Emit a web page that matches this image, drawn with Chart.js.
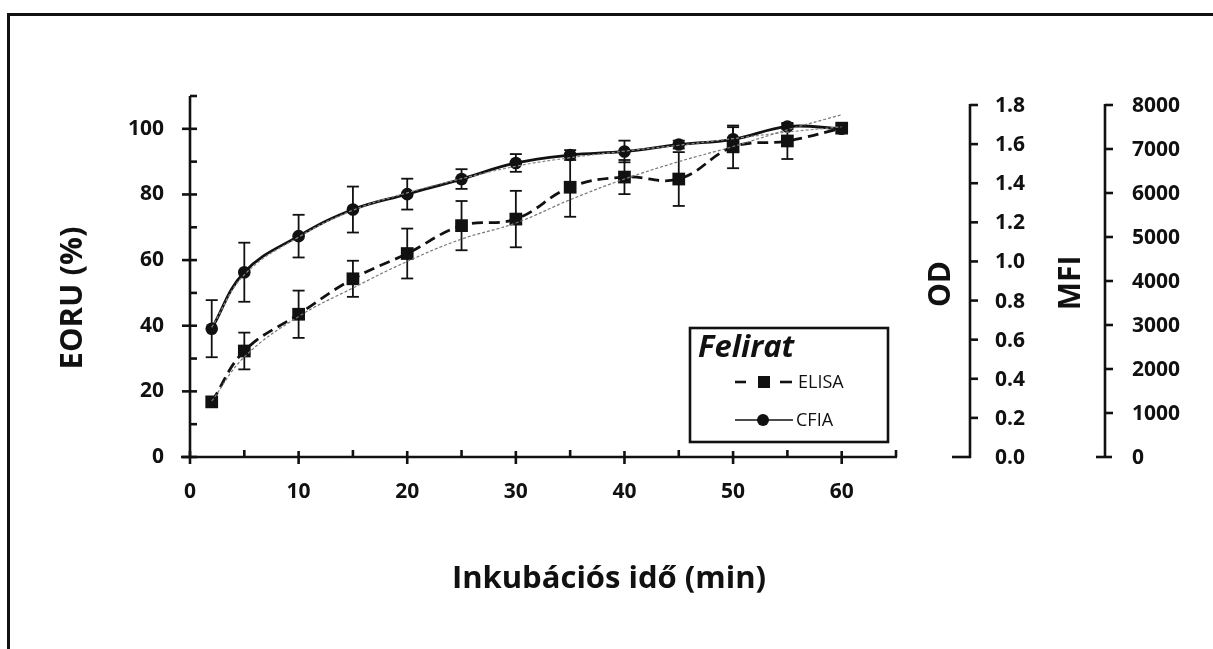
<!DOCTYPE html>
<html lang="hu">
<head>
<meta charset="utf-8">
<title>EORU – inkubációs idő</title>
<script src="https://cdn.jsdelivr.net/npm/chart.js@4.4.1/dist/chart.umd.min.js"></script>
<style>
  html, body { margin: 0; padding: 0; background: #fff; overflow: hidden; }
  #wrap { position: relative; width: 1213px; height: 649px; overflow: hidden; }
  #frame { position: absolute; left: 7px; top: 13px; right: 0; bottom: 0;
           border-left: 3px solid #111; border-top: 3px solid #111; }
  #chart { position: absolute; left: 0; top: 0; }
</style>
</head>
<body>
<div id="wrap">
  <div id="frame"></div>
  <canvas id="chart" width="1213" height="649"></canvas>
</div>
<script>
// Incubation time (min)
const times = [2, 5, 10, 15, 20, 25, 30, 35, 40, 45, 50, 55, 60];

// ELISA – mean EORU (%) and SD
const elisaMean = [16.8, 32.3, 43.5, 54.3, 62.0, 70.5, 72.5, 82.2, 85.3, 84.7, 94.5, 96.3, 100.2];
const elisaErr  = [0, 5.6, 7.2, 5.5, 7.6, 7.5, 8.6, 9.0, 5.2, 8.2, 6.5, 5.5, 0];
// CFIA – mean EORU (%) and SD
const cfiaMean  = [39.1, 56.3, 67.3, 75.4, 80.1, 84.7, 89.6, 92.0, 93.1, 95.2, 96.8, 100.7, 100.0];
const cfiaErr   = [8.7, 9.0, 6.5, 7.0, 4.7, 3.0, 2.7, 1.5, 3.3, 1.2, 3.7, 0.8, 0];

// fitted trend curves
const elisaFit  = [17.0, 30.5, 42.8, 51.5, 59.6, 66.4, 71.3, 78.4, 84.7, 90.0, 94.6, 99.7, 104.3];
const cfiaFit   = [39.5, 55.5, 67.0, 75.2, 80.5, 84.8, 88.6, 91.2, 93.2, 95.0, 97.0, 99.0, 100.6];

// axis ticks
const xTicks  = [0, 10, 20, 30, 40, 50, 60];
const xMinor  = [5, 15, 25, 35, 45, 55, 65];
const yTicks  = [0, 20, 40, 60, 80, 100];
const yMinor  = [10, 30, 50, 70, 90, 110];
const odTicks = [0, 0.2, 0.4, 0.6, 0.8, 1.0, 1.2, 1.4, 1.6, 1.8];
const mfiTicks = [0, 1000, 2000, 3000, 4000, 5000, 6000, 7000, 8000];

const INK = '#111';
const FONT = "'Open Sans', 'DejaVu Sans', sans-serif";

Chart.defaults.font.family = FONT;
Chart.defaults.color = INK;

const pts = (vals) => times.map((t, i) => ({ x: t, y: vals[i] }));

function seg(ctx, x1, y1, x2, y2) {
  ctx.beginPath();
  ctx.moveTo(x1, y1);
  ctx.lineTo(x2, y2);
  ctx.stroke();
}

function vText(ctx, text, cx, cy) {
  ctx.save();
  ctx.translate(cx, cy);
  ctx.rotate(-Math.PI / 2);
  ctx.fillText(text, 0, 0);
  ctx.restore();
}

// axes, error bars, titles and the legend box
const decorPlugin = {
  id: 'decor',
  beforeDatasetsDraw(chart) {
    const { ctx, chartArea: { left, right }, scales: { x, y, od, mfi } } = chart;
    ctx.save();
    ctx.strokeStyle = INK;
    ctx.lineCap = 'butt';

    // left axis
    ctx.lineWidth = 2.6;
    const y0 = y.getPixelForValue(0);
    seg(ctx, left, y0 + 1, left, y.getPixelForValue(110));
    yTicks.forEach(v => { const p = y.getPixelForValue(v); seg(ctx, left - 8, p, left + 7, p); });
    yMinor.forEach(v => { const p = y.getPixelForValue(v); seg(ctx, left, p, left + 7, p); });

    // bottom axis
    seg(ctx, left - 9, y0, x.getPixelForValue(65) + 1, y0);
    xTicks.forEach(v => { const p = x.getPixelForValue(v); seg(ctx, p, y0 - 6, p, y0 + 7); });
    xMinor.forEach(v => { const p = x.getPixelForValue(v); seg(ctx, p, y0 - 7, p, y0); });

    // OD and MFI axes
    const odX = right + 74, mfiX = right + 209;
    seg(ctx, odX, od.getPixelForValue(0) + 1, odX, od.getPixelForValue(1.8) - 1);
    seg(ctx, mfiX, mfi.getPixelForValue(0) + 1, mfiX, mfi.getPixelForValue(8000) - 1);

    ctx.fillStyle = INK;
    ctx.font = `700 21px ${FONT}`;
    ctx.textAlign = 'left';
    ctx.textBaseline = 'middle';
    odTicks.forEach(v => {
      const p = od.getPixelForValue(v);
      if (v === 0) seg(ctx, odX - 18, p, odX + 1, p);
      else seg(ctx, odX, p, odX + 8, p);
      ctx.fillText(v.toFixed(1), odX + 25, p + 1);
    });
    mfiTicks.forEach(v => {
      const p = mfi.getPixelForValue(v);
      if (v === 0) seg(ctx, mfiX - 9, p, mfiX + 7, p);
      else seg(ctx, mfiX, p, mfiX + 8, p);
      ctx.fillText(String(v), mfiX + 27, p + 1);
    });

    // error bars
    ctx.lineWidth = 1.8;
    [[elisaMean, elisaErr], [cfiaMean, cfiaErr]].forEach(([m, e]) => {
      times.forEach((t, i) => {
        if (!e[i]) return;
        const px = x.getPixelForValue(t);
        const hi = y.getPixelForValue(m[i] + e[i]);
        const lo = y.getPixelForValue(m[i] - e[i]);
        seg(ctx, px, hi, px, lo);
        seg(ctx, px - 6, hi, px + 6, hi);
        seg(ctx, px - 6, lo, px + 6, lo);
      });
    });

    // axis titles
    ctx.font = `700 31px ${FONT}`;
    ctx.textAlign = 'center';
    vText(ctx, 'EORU (%)', 73, 298);
    ctx.fillText('Inkubációs idő (min)', 609, 579);
    ctx.font = `700 30px ${FONT}`;
    vText(ctx, 'OD', odX - 29, 284);
    vText(ctx, 'MFI', mfiX - 34, 283);
    ctx.restore();
  },
  afterDatasetsDraw(chart) {
    const { ctx } = chart;
    ctx.save();
    ctx.fillStyle = '#fff';
    ctx.fillRect(690, 328, 198, 114);
    ctx.strokeStyle = INK;
    ctx.lineWidth = 2.6;
    ctx.strokeRect(690, 328, 198, 114);

    ctx.fillStyle = INK;
    ctx.textBaseline = 'middle';
    ctx.textAlign = 'left';
    ctx.font = `italic 700 31px ${FONT}`;
    ctx.fillText('Felirat', 698, 348);

    // ELISA sample
    ctx.lineWidth = 2.6;
    seg(ctx, 735, 382, 746, 382);
    seg(ctx, 780, 382, 792, 382);
    ctx.fillRect(758, 376, 12, 12);
    // CFIA sample
    ctx.lineWidth = 1.6;
    seg(ctx, 735, 420, 793, 420);
    ctx.beginPath();
    ctx.arc(763, 420, 6, 0, Math.PI * 2);
    ctx.fill();

    ctx.font = `400 18px ${FONT}`;
    ctx.fillText('ELISA', 798, 383);
    ctx.fillText('CFIA', 796, 421);
    ctx.restore();
  }
};

new Chart(document.getElementById('chart'), {
  type: 'line',
  data: {
    datasets: [
      {
        label: 'ELISA',
        data: pts(elisaMean),
        borderColor: INK,
        backgroundColor: INK,
        borderWidth: 2.8,
        borderDash: [11, 6],
        tension: 0.4,
        pointStyle: 'rect',
        pointRadius: 9,
        pointBorderWidth: 0,
        order: 1
      },
      {
        label: 'CFIA',
        data: pts(cfiaMean),
        borderColor: INK,
        backgroundColor: INK,
        borderWidth: 2.8,
        tension: 0.4,
        pointStyle: 'circle',
        pointRadius: 6.3,
        pointBorderWidth: 0,
        order: 1
      },
      {
        label: 'ELISA illesztés',
        data: pts(elisaFit),
        borderColor: '#777',
        borderWidth: 1.2,
        borderDash: [3, 2],
        tension: 0.4,
        pointRadius: 0,
        order: 0
      },
      {
        label: 'CFIA illesztés',
        data: pts(cfiaFit),
        borderColor: '#888',
        borderWidth: 1.2,
        borderDash: [3, 2],
        tension: 0.4,
        pointRadius: 0,
        order: 0
      }
    ]
  },
  options: {
    responsive: false,
    devicePixelRatio: 1,
    animation: false,
    layout: { padding: { left: 0, top: 96, right: 317, bottom: 0 } },
    plugins: { legend: { display: false }, tooltip: { enabled: false } },
    scales: {
      x: {
        type: 'linear',
        min: 0,
        max: 65,
        grid: { display: false, drawTicks: false },
        border: { display: false },
        afterBuildTicks: s => { s.ticks = xTicks.map(v => ({ value: v })); },
        afterFit: s => { s.height = 192; },
        ticks: { autoSkip: false, padding: 22, maxRotation: 0,
                 font: { size: 21, weight: '700' }, color: INK }
      },
      y: {
        min: 0,
        max: 110,
        grid: { display: false, drawTicks: false },
        border: { display: false },
        afterBuildTicks: s => { s.ticks = yTicks.map(v => ({ value: v })); },
        afterFit: s => { s.width = 190; },
        ticks: { padding: 26, font: { size: 21, weight: '700' }, color: INK }
      },
      od: {
        position: 'right',
        display: false,
        min: 0,
        max: 1.8 * 361 / 352
      },
      mfi: {
        position: 'right',
        display: false,
        min: 0,
        max: 8000 * 361 / 352
      }
    }
  },
  plugins: [decorPlugin]
});
</script>
</body>
</html>
